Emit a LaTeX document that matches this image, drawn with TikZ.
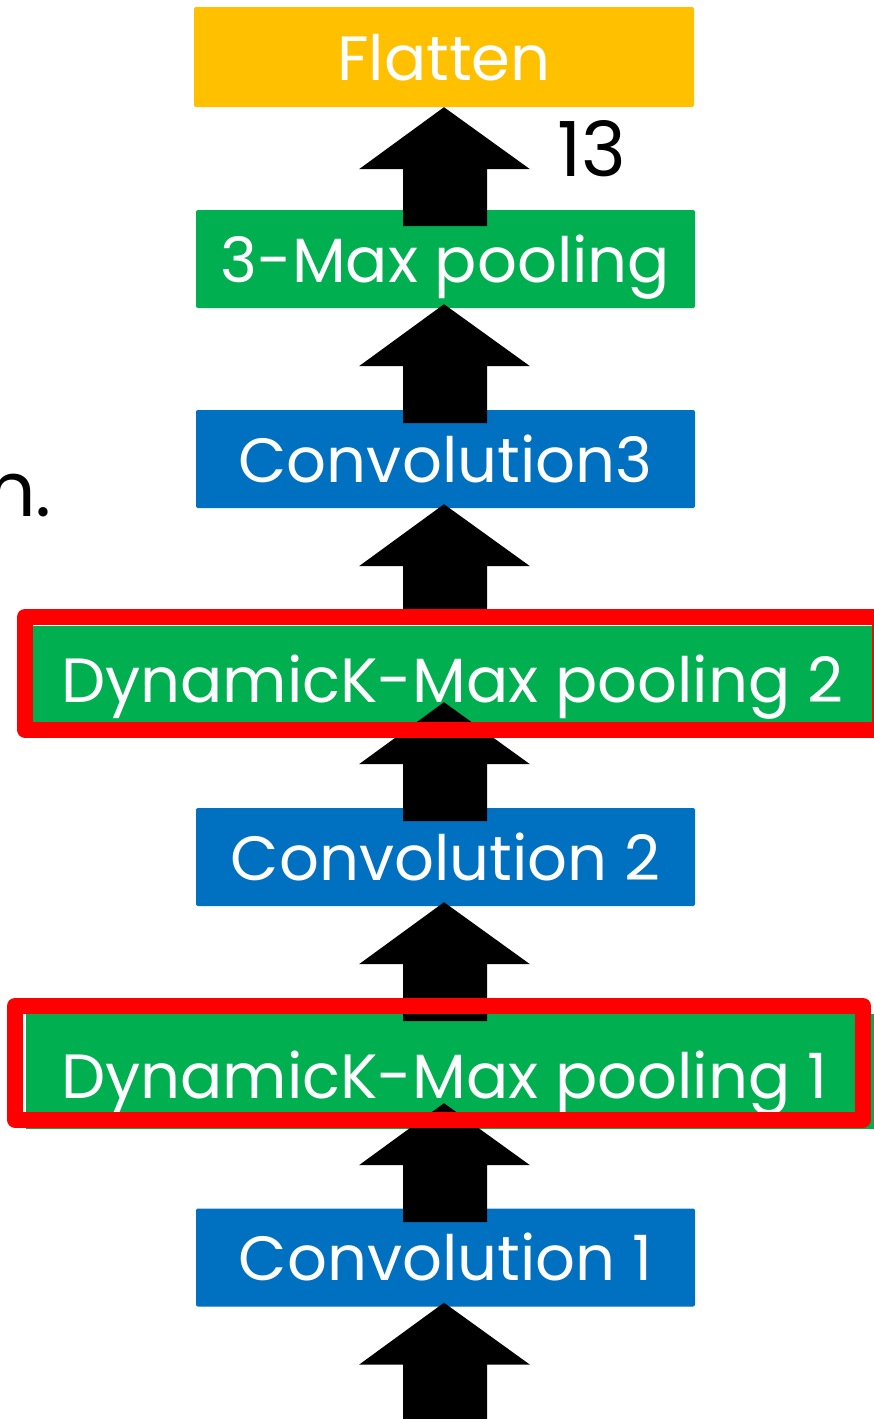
\documentclass[tikz,border=0pt]{standalone}
\usepackage{fontspec}
\setmainfont{Poppins}
\usetikzlibrary{calc}
\definecolor{boxorange}{HTML}{FFC000}
\definecolor{boxgreen}{HTML}{00B050}
\definecolor{boxblue}{HTML}{0070C0}
\definecolor{framered}{HTML}{FF0000}
\newcommand{\boxfont}{\fontsize{62.5}{75}\selectfont}
\newcommand{\blockarrowup}[1]{\fill[black] (#1) -- ++(86,62) -- ++(-43,0) -- ++(0,57) -- ++(-84,0) -- ++(0,-57) -- ++(-44,0) -- cycle;}
\begin{document}
\begin{tikzpicture}[x=1pt,y=-1pt,
  layerbox/.style={minimum width=499pt, minimum height=98pt, inner sep=0pt,
    rounded corners=2pt, text=white, font=\boxfont, text height=46pt, text depth=0pt},
  widebox/.style={inner sep=0pt, fill=boxgreen},
  layertext/.style={inner sep=0pt, text=white, font=\boxfont, anchor=base west},
  redframe/.style={draw=framered, line width=16pt, line join=round, inner sep=0pt}
]
\useasboundingbox[fill=white] (0,0) rectangle (874,1419);

% boxes
\node[layerbox, fill=boxorange, minimum width=500pt, minimum height=100pt] (fl) at (444,57) {Flatten};
\node[layerbox, fill=boxgreen] (mp3) at (445.5,259) {3-Max pooling};
\node[layerbox, fill=boxblue] (c3) at (445.5,459) {Convolution3};
\node[widebox, minimum width=847pt, minimum height=96pt] (dk2) at (456.5,674) {};
\node[layerbox, fill=boxblue] (c2) at (445.5,857) {Convolution 2};
\node[widebox, minimum width=854pt, minimum height=115pt] (dk1) at (453,1071.5) {};
\node[layerbox, fill=boxblue] (c1) at (445.5,1257.5) {Convolution 1};

\node[layertext] (dk2t) at (61,702) {DynamicK-Max pooling 2};
\node[layertext] (dk1t) at (61,1098) {DynamicK-Max pooling 1};

% side texts
\node[inner sep=0pt, anchor=base west, font=\fontsize{76}{90}\selectfont] (num) at (557,176) {13};
\node[inner sep=0pt, anchor=base east, font=\fontsize{76}{90}\selectfont] (frag) at (52,516) {n.};

% arrows
\coordinate (axis) at (444,0);
\coordinate (tG) at ($(fl.south -| axis)+(0,0)$);
\coordinate (tF) at ($(mp3.south -| axis)+(0,-4)$);
\coordinate (tE) at ($(c3.south -| axis)+(0,-4)$);
\coordinate (tD) at ($(dk2.south -| axis)+(0,-20)$);
\coordinate (tC) at ($(c2.south -| axis)+(0,-4)$);
\coordinate (tB) at ($(dk1.south -| axis)+(0,-26)$);
\coordinate (tA) at ($(c1.south -| axis)+(0,-4)$);
\blockarrowup{tG}
\blockarrowup{tF}
\blockarrowup{tE}
\blockarrowup{tD}
\blockarrowup{tC}
\blockarrowup{tB}
\blockarrowup{tA}

% red frames
\node[redframe, minimum width=855pt, minimum height=112.5pt] (rf2) at (452.5,673.25) {};
\node[redframe, minimum width=848pt, minimum height=113.5pt] (rf1) at (439,1062.75) {};
\end{tikzpicture}
\end{document}
